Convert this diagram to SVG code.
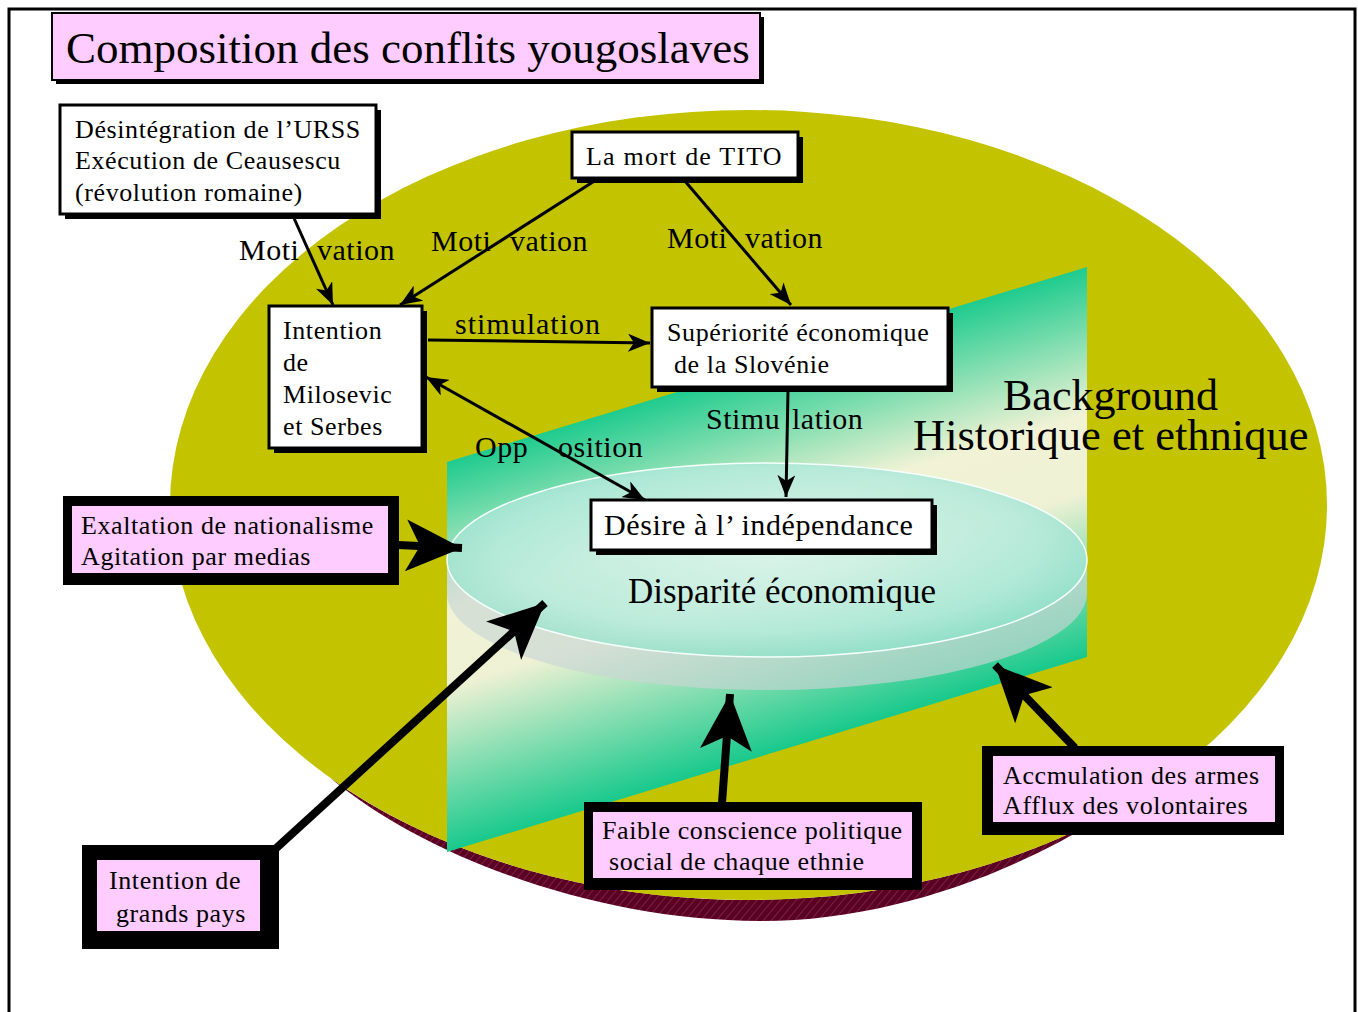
<svg xmlns="http://www.w3.org/2000/svg" width="1358" height="1012" viewBox="0 0 1358 1012">
<style>
text{font-family:"Liberation Serif","Times New Roman",serif;fill:#000}
.bt{font-size:26px;letter-spacing:0.6px}
.lb{font-size:30px;letter-spacing:0.5px}
.wb{fill:#fff;stroke:#000;stroke-width:3}
.sh{fill:#000}
.pk{fill:#FFCCFF}
.ln{stroke:#000;stroke-width:3;fill:none}
.tk{stroke:#000;stroke-width:8;fill:none}
</style>
<defs>
<marker id="ah" markerUnits="userSpaceOnUse" markerWidth="22" markerHeight="18" refX="22" refY="9" orient="auto-start-reverse">
<path d="M0,0 L22,9 L0,18 L6,9 z" fill="#000"/>
</marker>
<marker id="ahb" markerUnits="userSpaceOnUse" markerWidth="56" markerHeight="52" refX="56" refY="26" orient="auto">
<path d="M0,0 L56,26 L0,52 L14,26 z" fill="#000"/>
</marker>
<linearGradient id="plane" gradientUnits="userSpaceOnUse" x1="767" y1="364" x2="876" y2="721">
<stop offset="0" stop-color="#1ECB8E"/>
<stop offset="0.38" stop-color="#F2F3D6"/>
<stop offset="0.58" stop-color="#EEF1D4"/>
<stop offset="1" stop-color="#18C98C"/>
</linearGradient>
<radialGradient id="disk" cx="0.5" cy="0.45" r="0.6">
<stop offset="0" stop-color="#D6F4EC"/>
<stop offset="0.7" stop-color="#B4EADC"/>
<stop offset="1" stop-color="#8EDCC6"/>
</radialGradient>
<pattern id="hatch" patternUnits="userSpaceOnUse" width="6" height="6" patternTransform="rotate(40)">
<rect width="6" height="6" fill="#5B0022"/>
<line x1="0" y1="0" x2="0" y2="6" stroke="#9A5A78" stroke-width="0.8"/>
</pattern>
</defs>

<rect x="0" y="0" width="1358" height="1012" fill="#fff"/>
<rect x="9" y="9" width="1346" height="1020" fill="none" stroke="#000" stroke-width="3"/>

<g id="background-disk">
<path d="M330,777.7 A578.5,395 0 0,0 1100,818.7 C1000,880 880,921 760,921 C600,921 430,860 330,777.7 z" fill="url(#hatch)"/>
<ellipse cx="748.5" cy="505" rx="578.5" ry="395" fill="#C3C300"/>
</g>

<g id="plane-group">
<polygon points="447,462 1087,267 1087,657 447,852" fill="url(#plane)"/>
</g>

<g id="disparite">
<path d="M447,560 L447,593 A320,97 0 0,0 1087,593 L1087,560 A320,97 0 0,1 447,560 z" fill="#C9D6D6" fill-opacity="0.65"/>
<ellipse cx="767" cy="560" rx="320" ry="97" fill="url(#disk)" fill-opacity="0.85" stroke="#F4FFFC" stroke-width="1.5"/>
<text x="628" y="603" style="font-size:35px">Disparité économique</text>
</g>

<g id="background-label">
<text x="1003" y="410" style="font-size:44px">Background</text>
<text x="913" y="450" style="font-size:44.5px">Historique et ethnique</text>
</g>

<g id="title">
<rect x="56" y="17" width="708" height="67" class="sh"/>
<rect x="52" y="13" width="708" height="67" class="pk" stroke="#000" stroke-width="2"/>
<text x="66" y="63" style="font-size:45px">Composition des conflits yougoslaves</text>
</g>

<g id="connectors">
<line x1="293" y1="216" x2="333" y2="305" class="ln" marker-end="url(#ah)"/>
<line x1="596" y1="180" x2="400" y2="305" class="ln" marker-end="url(#ah)"/>
<line x1="684" y1="180" x2="791" y2="305" class="ln" marker-end="url(#ah)"/>
<line x1="428" y1="340" x2="650" y2="343" class="ln" marker-end="url(#ah)"/>
<line x1="426" y1="377" x2="645" y2="500" class="ln" marker-start="url(#ah)" marker-end="url(#ah)"/>
<line x1="788" y1="390" x2="786" y2="497" class="ln" marker-end="url(#ah)"/>
<line x1="398" y1="545" x2="462" y2="548" class="tk" marker-end="url(#ahb)"/>
<line x1="272" y1="852" x2="545" y2="603" class="tk" marker-end="url(#ahb)"/>
<line x1="722" y1="803" x2="730" y2="694" class="tk" marker-end="url(#ahb)"/>
<line x1="1075" y1="748" x2="995" y2="665" class="tk" marker-end="url(#ahb)"/>
<text class="lb"><tspan x="239" y="260">Moti</tspan><tspan x="317" y="260">vation</tspan></text>
<text class="lb"><tspan x="431" y="251">Moti</tspan><tspan x="510" y="251">vation</tspan></text>
<text class="lb"><tspan x="667" y="248">Moti</tspan><tspan x="745" y="248">vation</tspan></text>
<text class="lb" x="455" y="334" style="letter-spacing:1px">stimulation</text>
<text class="lb"><tspan x="475" y="457">Opp</tspan><tspan x="558" y="457">osition</tspan></text>
<text class="lb"><tspan x="706" y="429">Stimu</tspan><tspan x="792" y="429">lation</tspan></text>
</g>

<g id="urss">
<rect x="65" y="110" width="316" height="109" class="sh"/>
<rect x="60" y="105" width="316" height="109" class="wb"/>
<text class="bt" x="75" y="138">Désintégration de l’URSS</text>
<text class="bt" x="75" y="169">Exécution de Ceausescu</text>
<text class="bt" x="75" y="201">(révolution romaine)</text>
</g>

<g id="tito">
<rect x="577" y="137" width="226" height="46" class="sh"/>
<rect x="572" y="132" width="226" height="46" class="wb"/>
<text class="bt" x="586" y="165" style="letter-spacing:1.2px">La mort de TITO</text>
</g>

<g id="milosevic">
<rect x="274" y="311" width="153" height="142" class="sh"/>
<rect x="269" y="306" width="153" height="142" class="wb"/>
<text class="bt" x="283" y="339">Intention</text>
<text class="bt" x="283" y="371">de</text>
<text class="bt" x="283" y="403">Milosevic</text>
<text class="bt" x="283" y="435">et Serbes</text>
</g>

<g id="slovenie">
<rect x="657" y="313" width="296" height="79" class="sh"/>
<rect x="652" y="308" width="296" height="79" class="wb"/>
<text class="bt" x="667" y="341">Supériorité économique</text>
<text class="bt" x="674" y="373">de la Slovénie</text>
</g>

<g id="independance">
<rect x="596" y="505" width="341" height="50" class="sh"/>
<rect x="591" y="500" width="341" height="50" class="wb"/>
<text class="bt" x="604" y="535" style="font-size:30px">Désire à l’ indépendance</text>
</g>

<g id="nationalisme">
<rect x="63" y="496" width="336" height="89" class="sh"/>
<rect x="72" y="506" width="316" height="67" class="pk"/>
<text class="bt" x="81" y="534">Exaltation de nationalisme</text>
<text class="bt" x="81" y="565">Agitation par medias</text>
</g>

<g id="grands-pays">
<rect x="82" y="845" width="197" height="104" class="sh"/>
<rect x="97" y="860" width="163" height="71" class="pk"/>
<text class="bt" x="109" y="889">Intention de</text>
<text class="bt" x="116" y="922">grands pays</text>
</g>

<g id="conscience">
<rect x="584" y="802" width="338" height="88" class="sh"/>
<rect x="593" y="812" width="319" height="66" class="pk"/>
<text class="bt" x="602" y="839">Faible conscience politique</text>
<text class="bt" x="609" y="870">social de chaque ethnie</text>
</g>

<g id="armes">
<rect x="982" y="746" width="302" height="89" class="sh"/>
<rect x="993" y="756" width="282" height="66" class="pk"/>
<text class="bt" x="1003" y="784">Accmulation des armes</text>
<text class="bt" x="1003" y="814">Afflux des volontaires</text>
</g>
</svg>
